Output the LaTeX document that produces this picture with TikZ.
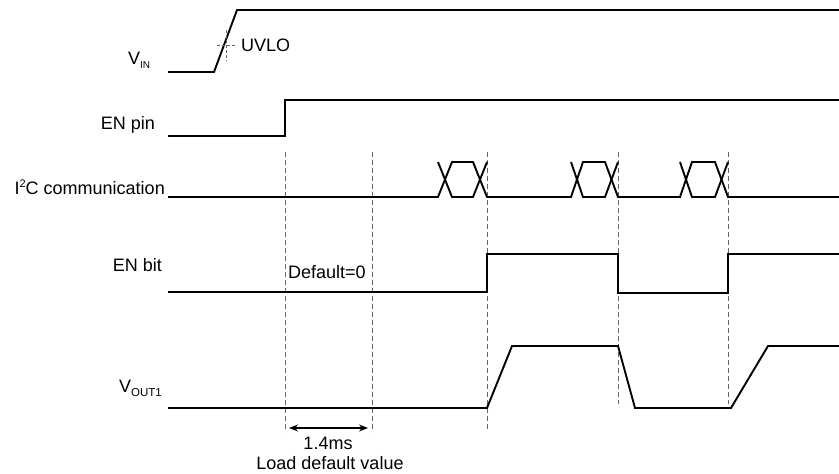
\documentclass[tikz,border=0pt]{standalone}
\usepackage{fontspec}
\setmainfont{Liberation Sans}
\usetikzlibrary{arrows.meta}
\begin{document}
\begin{tikzpicture}[x=1pt,y=-1pt,
  sig/.style={line width=1.9pt, line join=miter},
  guide/.style={black!60, line width=0.9pt, dash pattern=on 5pt off 3pt},
  lbl/.style={font=\fontsize{18}{21}\selectfont, inner sep=0pt}]
\useasboundingbox (0,0) rectangle (839,474);

% labels
\node[lbl, anchor=west] (vin) at (128,60) {V\raisebox{-0.45ex}{\fontsize{10}{10}\selectfont IN}};
\node[lbl, anchor=east] (enpin) at (155,125) {EN pin};
\node[lbl, anchor=east] (i2c) at (165,187) {I\raisebox{0.75ex}{\fontsize{11}{11}\selectfont 2}C communication};
\node[lbl, anchor=east] (enbit) at (162,265) {EN bit};
\node[lbl, anchor=west] (vout) at (119,388) {V\raisebox{-0.45ex}{\fontsize{11.5}{11.5}\selectfont OUT1}};

% guide lines
\coordinate (g1t) at (285,152); \coordinate (g1b) at (285,432);
\coordinate (g2t) at (372,152); \coordinate (g2b) at (372,432);
\coordinate (g3t) at (487,152); \coordinate (g3b) at (487,430);
\coordinate (g4t) at (618,152); \coordinate (g4b) at (618,404);
\coordinate (g5t) at (728,152); \coordinate (g5b) at (728,404);
\draw[guide] (g1t) -- (g1b);
\draw[guide] (g2t) -- (g2b);
\draw[guide] (g3t) -- (g3b);
\draw[guide] (g4t) -- (g4b);
\draw[guide] (g5t) -- (g5b);

% VIN
\draw[sig] (168,72) -- (214,72) -- (237,10) -- (839,10);
\coordinate (uvh1) at (217,45); \coordinate (uvh2) at (236,45);
\coordinate (uvv1) at (226,30); \coordinate (uvv2) at (226,61);
\draw[guide, line width=0.7pt, dash pattern=on 3pt off 2pt] (uvh1) -- (uvh2);
\draw[guide, line width=0.7pt, dash pattern=on 3pt off 2pt] (uvv1) -- (uvv2);
\node[lbl, anchor=west] (uvlo) at (241,45) {UVLO};

% EN pin
\draw[sig] (168,136) -- (285,136) -- (285,100) -- (839,100);

% I2C
\draw[sig] (168,197) -- (438,197) -- (452,162) -- (473,162) -- (487,197) -- (571,197)
  -- (583,162) -- (605,162) -- (618,197) -- (680,197) -- (692,162) -- (715,162) -- (728,197) -- (839,197);
\draw[sig] (438,162) -- (452,197) -- (473,197) -- (487,162);
\draw[sig] (571,162) -- (583,197) -- (605,197) -- (618,162);
\draw[sig] (680,162) -- (692,197) -- (715,197) -- (728,162);

% EN bit
\draw[sig] (168,292) -- (487,292) -- (487,254) -- (618,254) -- (618,293) -- (728,293) -- (728,254) -- (839,254);
\node[lbl, anchor=west] (def) at (288,272) {Default=0};

% VOUT1
\draw[sig] (168,408) -- (487,408) -- (512,346) -- (618,346) -- (635,408) -- (731,408) -- (768,346) -- (839,346);

% timing arrow
\coordinate (a1) at (289,428); \coordinate (a2) at (368,428);
\draw[line width=1.2pt, {Stealth[length=9pt,width=7pt]}-{Stealth[length=9pt,width=7pt]}] (a1) -- (a2);
\node[lbl] (t14) at (328,443) {1.4ms};
\node[lbl] (ldv) at (330,463) {Load default value};
\end{tikzpicture}
\end{document}
